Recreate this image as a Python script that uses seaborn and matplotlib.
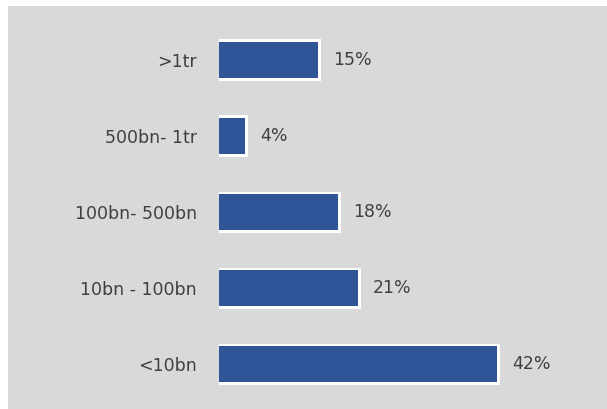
import matplotlib
matplotlib.use("Agg")
import matplotlib.pyplot as plt
import seaborn as sns
import pandas as pd
from matplotlib.patches import Rectangle

categories = [">1tr", "500bn- 1tr", "100bn- 500bn", "10bn - 100bn", "<10bn"]
values = [15, 4, 18, 21, 42]
value_labels = ["15%", "4%", "18%", "21%", "42%"]

df = pd.DataFrame({"cat": categories, "val": values})
df["frame"] = df["val"] + 0.4

sns.set_theme(style="white")
plt.rcParams["font.family"] = ["DejaVu Sans"]

W, H = 607, 409
fig = plt.figure(figsize=(W / 100, H / 100), dpi=100)
fig.patch.set_facecolor("white")
fig.add_artist(Rectangle((8 / W, 0), 1 - 8 / W, 1 - 6 / H, transform=fig.transFigure,
                         facecolor="#d9d9d9", edgecolor="none", zorder=0))

ax = fig.add_axes([219 / W, 0, (W - 219) / W, 1 - 6 / H])
ax.set_facecolor("none")

sns.barplot(data=df, x="frame", y="cat", orient="h", color="white", width=0.54,
            saturation=1, linewidth=0, ax=ax, zorder=2)
sns.barplot(data=df, x="val", y="cat", orient="h", color="#2e5597", width=0.47,
            saturation=1, linewidth=0, ax=ax, zorder=3)

ax.set_xlim(0, (W - 219) / 6.62)
ax.set_ylim(4.59, -0.71)
ax.set_xlabel("")
ax.set_ylabel("")
ax.set_xticks([])
for s in ax.spines.values():
    s.set_visible(False)
ax.tick_params(axis="y", length=0, pad=16, labelsize=12.5, labelcolor="#404040")

for i, (v, lab) in enumerate(zip(values, value_labels)):
    ax.annotate(lab, xy=(v, i), xytext=(15, 0), textcoords="offset pixels",
                ha="left", va="center", fontsize=12.5, color="#404040")

fig.savefig("out.png", dpi=100)
